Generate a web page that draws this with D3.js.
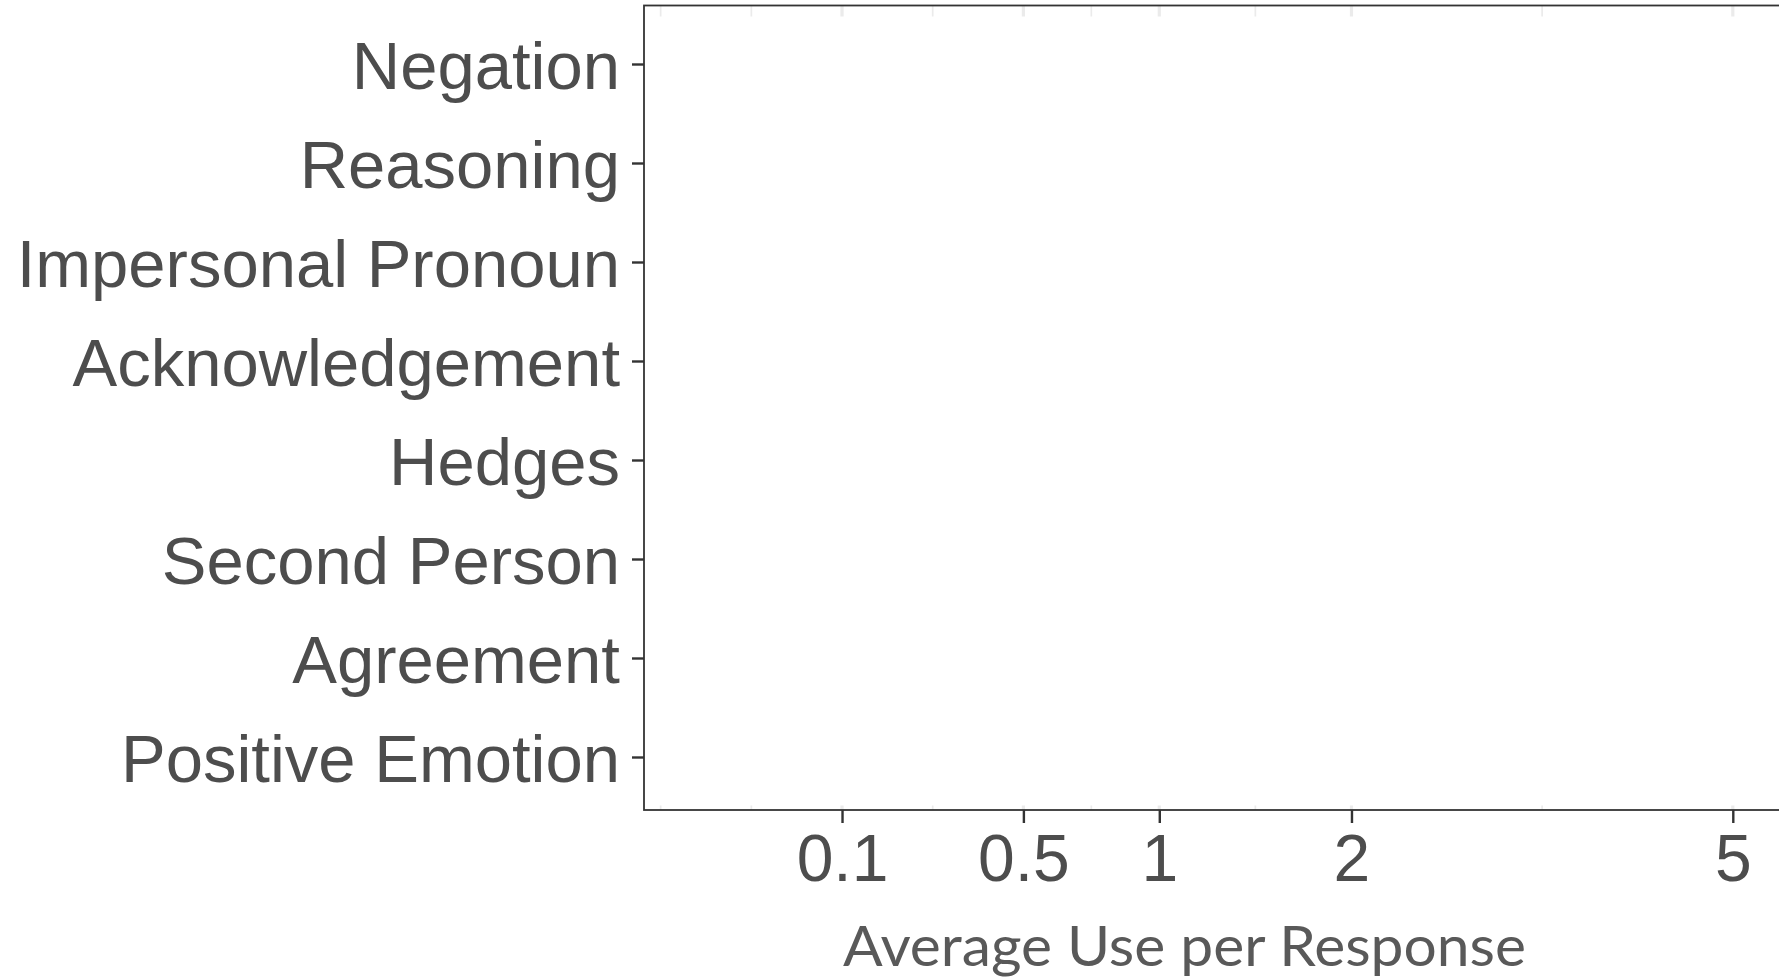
<!DOCTYPE html>
<html>
<head>
<meta charset="utf-8">
<script src="https://cdn.jsdelivr.net/npm/d3@7/dist/d3.min.js"></script>
<style>
  html, body { margin: 0; padding: 0; background: #ffffff; }
  svg { display: block; }
  .lab { font-family: "Liberation Sans", Arial, sans-serif; }
</style>
</head>
<body>
<svg id="chart" width="1779" height="977"></svg>
<script>
// ---- data ----
const categories = ["Negation", "Reasoning", "Impersonal Pronoun", "Acknowledgement",
                    "Hedges", "Second Person", "Agreement", "Positive Emotion"];
const xTickValues = [0.1, 0.5, 1, 2, 5];
const xTickLabels = ["0.1", "0.5", "1", "2", "5"];
const xTitle = "Average Use per Response";
// The plotting area of the reference is blank (its marks are not visible),
// so no series values are drawn.

// ---- layout ----
const panel = { left: 644, top: 5.5, bottom: 810, right: 1800 };

const svg = d3.select("#chart");

const x = d3.scaleSqrt().domain([0, 5]).range([695.3, 1732.8]);
const y = d3.scalePoint().domain(categories).range([64, 757]);

// minor breaks in sqrt space (ggplot regular_minor_breaks)
const tMaj = xTickValues.map(Math.sqrt);
const bd = tMaj[1] - tMaj[0];
const bExt = [tMaj[0] - bd, ...tMaj];
const minorT = [];
for (let i = 0; i < bExt.length - 1; i++) minorT.push((bExt[i] + bExt[i + 1]) / 2);
minorT.push(bExt[0]);
const tToX = t => x(t < 0 ? -t * t : t * t);

const g = svg.append("g");

// panel background
g.append("rect").attr("x", panel.left).attr("y", panel.top)
  .attr("width", panel.right - panel.left).attr("height", panel.bottom - panel.top)
  .attr("fill", "#ffffff");

// gridlines
g.selectAll("line.minor").data(minorT.filter(t => tToX(t) > panel.left)).join("line")
  .attr("class", "minor")
  .attr("x1", d => tToX(d)).attr("x2", d => tToX(d))
  .attr("y1", panel.top).attr("y2", panel.bottom)
  .attr("stroke", "#ebebeb").attr("stroke-width", 1.7);
g.selectAll("line.major").data(xTickValues).join("line")
  .attr("class", "major")
  .attr("x1", d => x(d)).attr("x2", d => x(d))
  .attr("y1", panel.top).attr("y2", panel.bottom)
  .attr("stroke", "#ebebeb").attr("stroke-width", 3.2);

// blank interior (as in the reference, only grid stubs remain at the edges)
g.append("rect").attr("x", panel.left + 1).attr("y", 16.5)
  .attr("width", panel.right - panel.left).attr("height", 805.5 - 16.5)
  .attr("fill", "#ffffff");

// panel border
g.append("rect").attr("x", panel.left).attr("y", panel.top)
  .attr("width", panel.right - panel.left).attr("height", panel.bottom - panel.top)
  .attr("fill", "none").attr("stroke", "#333333").attr("stroke-width", 1.8);

// y axis
const yAxis = d3.axisLeft(y).tickSize(12).tickPadding(12);
const yg = svg.append("g").attr("transform", `translate(${panel.left},0)`).call(yAxis);
yg.select(".domain").remove();
yg.selectAll(".tick line").attr("stroke", "#333333").attr("stroke-width", 2.4);
yg.selectAll(".tick text")
  .attr("class", "lab")
  .attr("fill", "#4d4d4d")
  .attr("font-family", null)
  .attr("font-size", 67)
  .attr("dy", 24)
  .attr("dominant-baseline", "auto");
yg.attr("font-family", null);

// x axis
const xAxis = d3.axisBottom(x).tickValues(xTickValues)
  .tickFormat((d, i) => xTickLabels[i]).tickSize(13).tickPadding(10);
const xg = svg.append("g").attr("transform", `translate(0,${panel.bottom})`).call(xAxis);
xg.select(".domain").remove();
xg.attr("font-family", null);
xg.selectAll(".tick line").attr("stroke", "#333333").attr("stroke-width", 2.4);
xg.selectAll(".tick text")
  .attr("class", "lab")
  .attr("fill", "#4d4d4d")
  .attr("font-size", 66)
  .attr("dy", null)
  .attr("y", 71)
  .attr("dominant-baseline", "auto");

// x title
svg.append("text")
  .attr("x", 1184.5).attr("y", 966)
  .attr("text-anchor", "middle")
  .attr("font-family", "Lato, 'Open Sans', sans-serif")
  .attr("font-size", 57)
  .attr("fill", "#595959")
  .attr("textLength", 683)
  .attr("lengthAdjust", "spacingAndGlyphs")
  .text(xTitle);
</script>
</body>
</html>
